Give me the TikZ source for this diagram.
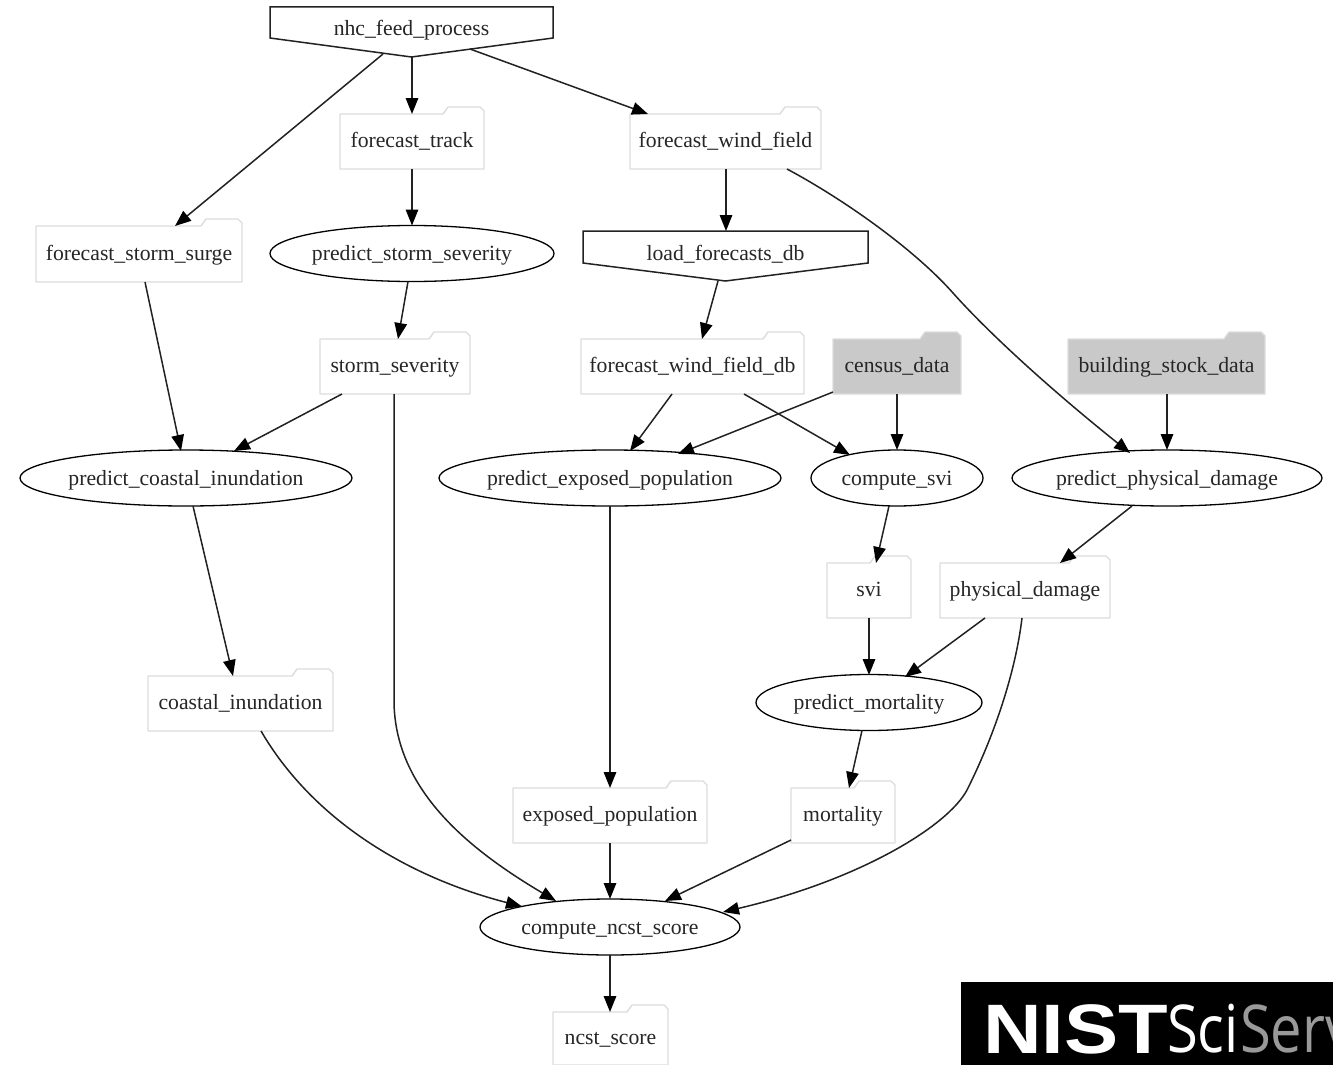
\documentclass[tikz,border=0pt]{standalone}
\usepackage{fontspec}
\setmainfont{Liberation Serif}
\newfontfamily\logoA{Liberation Sans}[BoldFont={Liberation Sans Bold}]
\newfontfamily\logoB{Open Sans}
\usetikzlibrary{arrows.meta,shapes.geometric}
\definecolor{folderline}{HTML}{DCDCDC}
\definecolor{censusgray}{HTML}{C9C9C9}
\definecolor{inkline}{HTML}{222222}
\tikzset{
  lbl/.style={font=\fontsize{21.7}{26}\selectfont,text=black!85},
  edge/.style={draw=inkline,line width=1.5pt,-{Triangle[length=16pt,width=12.5pt,color=black]}},
  ellnode/.style={ellipse,draw=black,line width=1.3pt,fill=white,inner sep=0pt,lbl,minimum height=56pt,text height=19pt,text depth=5pt},
  boxnode/.style={rectangle,inner sep=0pt,lbl,text height=17pt,text depth=5pt},
  folderpath/.style={draw=folderline,line width=1.4pt,line join=round},
  housepath/.style={draw=inkline,line width=1.5pt,line join=miter},
}
% name, x0, x1, ytop of body, ybottom, label, fill
\newcommand{\folder}[7]{%
  \path[folderpath,fill=#7] (#2,#5) -- (#2,#4) -- ({#3-41},#4) -- ({#3-36},{#4-7}) -- ({#3-4},{#4-7}) -- (#3,{#4-3}) -- (#3,#5) -- cycle;
  \node[boxnode,minimum width={(#3-#2)*1pt},minimum height={(#5-#4)*1pt}] (#1) at ({(#2+#3)/2},{(#4+#5)/2}) {#6};
}
% name, x0, x1, ytop, yside, yapex, label
\newcommand{\invhouse}[7]{%
  \path[housepath,fill=white] (#2,#4) -- (#3,#4) -- (#3,#5) -- ({(#2+#3)/2},#6) -- (#2,#5) -- cycle;
  \node[boxnode,minimum width={(#3-#2)*1pt},minimum height={(#5-#4)*1pt}] (#1) at ({(#2+#3)/2},{(#4+#5)/2+7.5}) {#7};
}
\newcommand{\ellip}[5]{\node[ellnode,minimum width=#2pt] (#1) at (#3,#4) {\makebox[0pt]{#5}};}
\newcommand{\lnk}[6]{\draw[edge] ([shift={(#2,#3)}]#1.center) -- ([shift={(#5,#6)}]#4.center);}
\begin{document}
\begin{tikzpicture}[x=1pt,y=-1pt]
\useasboundingbox (0,0) rectangle (1333,1065);
\fill[white] (0,0) rectangle (1333,1065);

\invhouse{nhc}{270}{553}{7}{38}{57}{nhc\_feed\_process}
\invhouse{load}{583}{868}{231}{263}{281}{load\_forecasts\_db}

\folder{track}{340}{484}{114}{169}{forecast\_track}{white}
\folder{wind}{630}{821}{114}{169}{forecast\_wind\_field}{white}
\folder{surge}{36}{242}{226}{282}{forecast\_storm\_surge}{white}
\folder{stormsev}{320}{470}{339}{394}{storm\_severity}{white}
\folder{winddb}{581}{804}{339}{394}{forecast\_wind\_field\_db}{white}
\folder{census}{833}{961}{339}{394}{census\_data}{censusgray}
\folder{building}{1068}{1265}{339}{394}{building\_stock\_data}{censusgray}
\folder{svi}{827}{911}{563}{618}{svi}{white}
\folder{physdmg}{940}{1110}{563}{618}{physical\_damage}{white}
\folder{coastal}{148}{333}{676}{731}{coastal\_inundation}{white}
\folder{exposed}{513}{707}{788}{843}{exposed\_population}{white}
\folder{mortality}{791}{895}{788}{843}{mortality}{white}
\folder{ncst}{553}{668}{1012}{1065}{ncst\_score}{white}

\ellip{psev}{284}{412}{253.5}{predict\_storm\_severity}
\ellip{pcoast}{332}{186}{478}{predict\_coastal\_inundation}
\ellip{pexp}{342}{610}{478}{predict\_exposed\_population}
\ellip{csvi}{172}{897}{478}{compute\_svi}
\ellip{pphys}{310}{1167}{478}{predict\_physical\_damage}
\ellip{pmort}{226}{869}{702.5}{predict\_mortality}
\ellip{cncst}{260}{610}{927}{compute\_ncst\_score}

\lnk{nhc}{0.5}{27}{track}{0}{-27.5}
\lnk{nhc}{-28.5}{24}{surge}{36}{-28}
\lnk{nhc}{58.5}{19}{wind}{-77.5}{-27.5}
\lnk{track}{0}{27.5}{psev}{0}{-28}
\lnk{wind}{0.5}{27.5}{load}{0.5}{-23.5}
\lnk{surge}{6}{28}{pcoast}{-5}{-27}
\lnk{psev}{-4}{28}{stormsev}{3}{-27.5}
\lnk{load}{-7.5}{26.5}{winddb}{9.5}{-27.5}
\lnk{stormsev}{-53}{27.5}{pcoast}{48}{-27}
\lnk{winddb}{-20.5}{27.5}{pexp}{20}{-27}
\lnk{winddb}{51.5}{27.5}{csvi}{-47}{-23}
\lnk{census}{-64}{25.5}{pexp}{68}{-24}
\lnk{census}{0}{27.5}{csvi}{0}{-28}
\lnk{building}{0.5}{27.5}{pphys}{0}{-28}
\lnk{pcoast}{7}{28}{coastal}{-7.5}{-27.5}
\lnk{pexp}{0}{28}{exposed}{0}{-27.5}
\lnk{csvi}{-8}{28}{svi}{7}{-27.5}
\lnk{pphys}{-35}{28}{physdmg}{35}{-27.5}
\lnk{svi}{0}{27.5}{pmort}{0}{-27.5}
\lnk{physdmg}{-40}{27.5}{pmort}{36}{-25.5}
\lnk{pmort}{-7}{28}{mortality}{6}{-27.5}
\lnk{exposed}{0}{27.5}{cncst}{0}{-28}
\lnk{mortality}{-52}{24.5}{cncst}{55}{-26}
\lnk{cncst}{0}{28}{ncst}{-0.5}{-26.5}

\draw[edge] ([shift={(61.5,27.5)}]wind.center) .. controls (845,200) and (915,250) .. (953,293) .. controls (985,329) and (1045,385) .. ([shift={(-37,-25)}]pphys.center);
\draw[edge] ([shift={(-1,27.5)}]stormsev.center) -- (394,700) .. controls (394,790) and (470,850) .. ([shift={(-54,-26)}]cncst.center);
\draw[edge] ([shift={(20.5,27.5)}]coastal.center) .. controls (310,815) and (400,875) .. ([shift={(-88,-20.5)}]cncst.center);
\draw[edge] ([shift={(-3,27.5)}]physdmg.center) .. controls (1016,668) and (997,730) .. (967,790) .. controls (948,826) and (860,880) .. ([shift={(113,-15)}]cncst.center);

\fill[black] (961,982) rectangle (1333,1065);
\begin{scope}
\clip (961,982) rectangle (1333,1065);
\node[anchor=base west,inner sep=0pt,text=white,font=\logoA\bfseries\fontsize{70}{70}\selectfont,xscale=1.16] (logonist) at (983,1053) {NIST};
\node[anchor=base west,inner sep=0pt,text=white,font=\logoB\fontsize{66}{66}\selectfont,xscale=0.85] (logosci) at (1167,1052) {Sci};
\node[anchor=base west,inner sep=0pt,text=black!40,font=\logoB\fontsize{66}{66}\selectfont,xscale=0.85] (logoserv) at (1240,1052) {Serv};
\end{scope}
\end{tikzpicture}
\end{document}
